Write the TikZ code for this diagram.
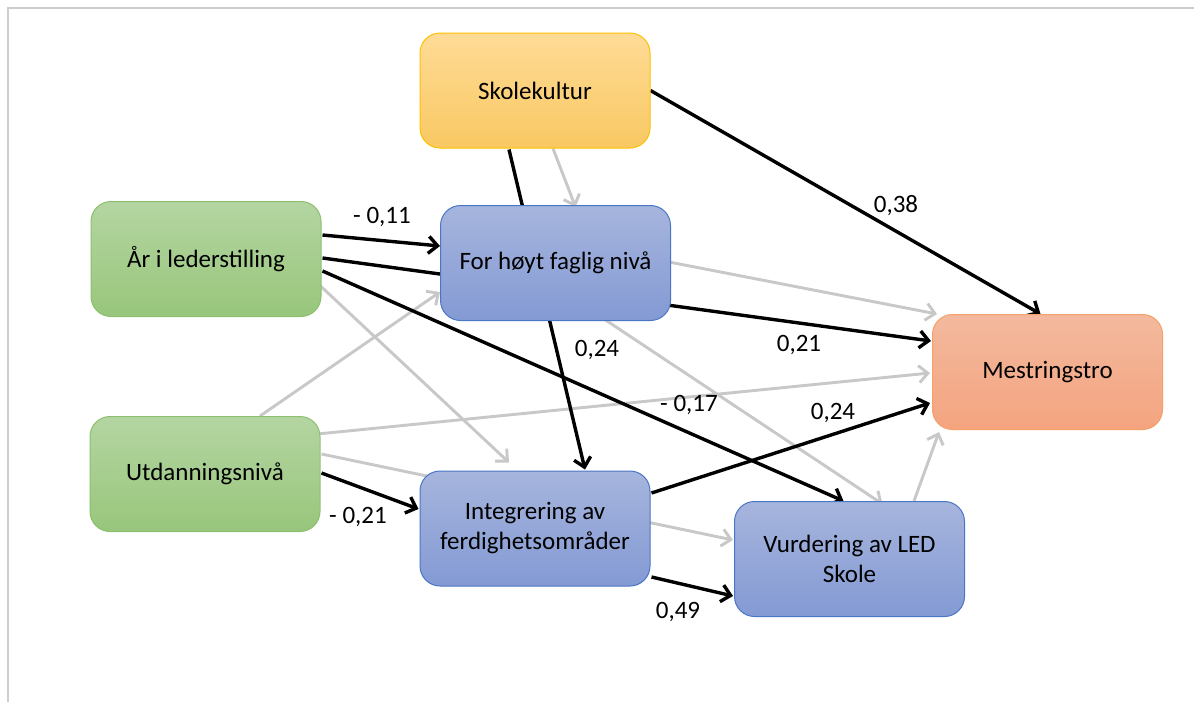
\documentclass[tikz,border=0pt]{standalone}
\usepackage{fontspec}
\setmainfont{Carlito}
\usetikzlibrary{arrows.meta,backgrounds}
\definecolor{yeltop}{HTML}{FFDB96}
\definecolor{yelbot}{HTML}{F8C862}
\definecolor{yeldraw}{HTML}{FFC000}
\definecolor{grntop}{HTML}{B4D5A2}
\definecolor{grnbot}{HTML}{98C67B}
\definecolor{grndraw}{HTML}{8CC06E}
\definecolor{blutop}{HTML}{A6B5DD}
\definecolor{blubot}{HTML}{849AD4}
\definecolor{bludraw}{HTML}{4A76C6}
\definecolor{orgtop}{HTML}{F3B99E}
\definecolor{orgbot}{HTML}{F4A47F}
\definecolor{orgdraw}{HTML}{F4A066}
\definecolor{lgray}{RGB}{200,200,200}
\definecolor{framegray}{RGB}{205,205,205}
\begin{document}
\begin{tikzpicture}[x=1pt,y=-1pt,
  box/.style={rounded corners=20pt, minimum width=230pt, minimum height=115pt,
    inner sep=0pt, align=center, font=\fontsize{25}{30}\selectfont, line width=1pt},
  yelbox/.style={box, top color=yeltop, bottom color=yelbot, draw=yeldraw},
  grnbox/.style={box, top color=grntop, bottom color=grnbot, draw=grndraw},
  blubox/.style={box, top color=blutop, bottom color=blubot, draw=bludraw},
  orgbox/.style={box, top color=orgtop, bottom color=orgbot, draw=orgdraw},
  blk/.style={draw=black, line width=3.4pt, -{Straight Barb[length=9pt,width=17pt]}},
  gry/.style={draw=lgray, line width=2.9pt, -{Straight Barb[length=9pt,width=17pt]}},
  lbl/.style={font=\fontsize{25}{30}\selectfont, inner sep=0pt}
]
\useasboundingbox (0,0) rectangle (1194,702);

% nodes
\node[yelbox] (skole) at (535,90.5) {Skolekultur};
\node[grnbox] (aar) at (206,259) {År i lederstilling};
\node[blubox] (faglig) at (555.5,263) {For høyt faglig nivå};
\node[orgbox] (mest) at (1047.5,372) {Mestringstro};
\node[grnbox] (utd) at (205,474) {Utdanningsnivå};
\node[blubox] (integ) at (535,528.5) {Integrering av\\ferdighetsområder};
\node[blubox] (vurd) at (849.5,559) {Vurdering av LED\\Skole};

% labels
\node[lbl] (l011) at (382,217) {- 0,11};
\node[lbl] (l038) at (896,206) {0,38};
\node[lbl] (l024a) at (597,350) {0,24};
\node[lbl] (l021) at (799,345) {0,21};
\node[lbl] (l017) at (689,405) {- 0,17};
\node[lbl] (l024b) at (833,413) {0,24};
\node[lbl] (lm021) at (358,517) {- 0,21};
\node[lbl] (l049) at (678,612) {0,49};

\begin{scope}[on background layer]
\fill[white] (0,0) rectangle (1194,702);
\draw[framegray, line width=2pt] (8,702) -- (8,8) -- (1194,8);

% gray connectors
\draw[gry] ([shift={(18,0)}]skole.south) -- ([shift={(20,2)}]faglig.north);
\draw[gry] ([shift={(-1,27)}]aar.east) -- ([shift={(-26,-8)}]integ.north);
\draw[gry] ([shift={(55,0)}]utd.north) -- ([shift={(0,29)}]faglig.west);
\draw[gry] ([shift={(-3,-40)}]utd.east) -- ([shift={(-2,1)}]mest.west);
\draw[gry] ([shift={(1,-20)}]utd.east) -- ([shift={(-1,-19)}]vurd.west);
\draw[gry] ([shift={(-2,-1)}]faglig.east) -- ([shift={(5,0)}]mest.north west);
\draw[gry] ([shift={(47,-3)}]faglig.south) -- ([shift={(33,3)}]vurd.north);
\draw[gry] ([shift={(64.5,0)}]vurd.north) -- ([shift={(7,2)}]mest.south west);

% black connectors
\draw[blk] (skole.east) -- ([shift={(-7,0)}]mest.north);
\draw[blk] ([shift={(-26,1)}]skole.south) -- ([shift={(50,-1)}]integ.north);
\draw[blk] ([shift={(1,-24)}]aar.east) -- ([shift={(0,-17)}]faglig.west);
\draw[blk] ([shift={(1,-1)}]aar.east) -- ([shift={(-1,-31)}]mest.west);
\draw[blk] ([shift={(1,12)}]aar.east) -- ([shift={(-6,0)}]vurd.north);
\draw[blk] ([shift={(1,-1)}]utd.east) -- ([shift={(-1,-19.5)}]integ.west);
\draw[blk] ([shift={(1,-35.5)}]integ.east) -- ([shift={(-2,31)}]mest.west);
\draw[blk] ([shift={(1,48.5)}]integ.east) -- ([shift={(-1,37)}]vurd.west);
\end{scope}
\end{tikzpicture}
\end{document}
